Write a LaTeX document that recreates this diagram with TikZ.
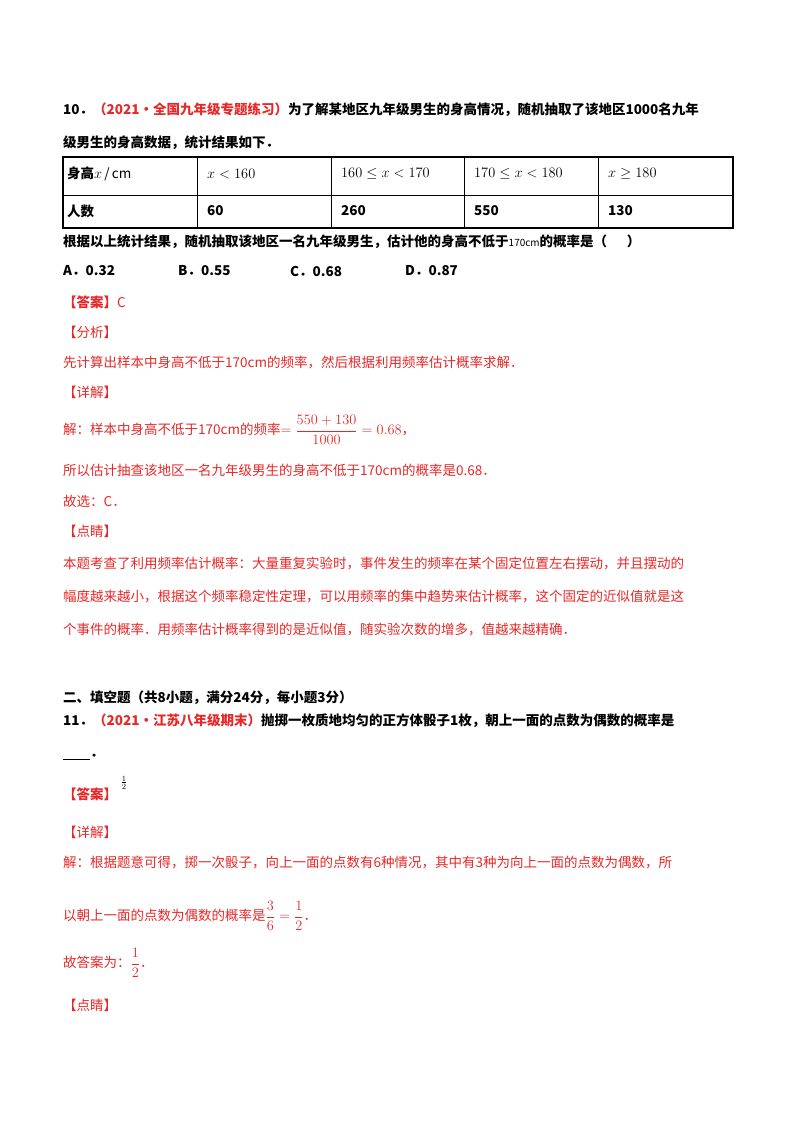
\documentclass[tikz,border=0pt]{standalone}
\usepackage{amsmath}
\usepackage{fontspec}
\setmainfont{Noto Sans CJK SC}
\definecolor{ansred}{RGB}{232,40,40}
\tikzset{
  txt/.style={anchor=west,inner sep=0pt,font=\fontsize{13.5}{16}\selectfont},
  btxt/.style={txt,font=\fontsize{13.5}{16}\selectfont\bfseries},
  rtxt/.style={txt,text=ansred},
  cell/.style={anchor=west,inner sep=0pt,font=\fontsize{13.5}{16}\selectfont\bfseries},
}
\begin{document}
\begin{tikzpicture}[x=1pt,y=-1pt]
\useasboundingbox (0,0) rectangle (800,1132);
\fill[white] (0,0) rectangle (800,1132);
% question 10
\node[btxt] (q10a) at (63,110) {10．{\color{ansred}（2021·全国九年级专题练习）}为了解某地区九年级男生的身高情况，随机抽取了该地区1000名九年};
\node[btxt] (q10b) at (63,143) {级男生的身高数据，统计结果如下．};
% table
\draw[line width=1.2pt] (63,157) rectangle (733,228);
\draw[line width=0.8pt] (63,195) -- (733,195);
\foreach \x in {197,331,464,598} \draw[line width=0.8pt] (\x,157) -- (\x,228);
\node[cell] (h0) at (67,174) {身高\mdseries$x$\,/\,cm};
\node[cell,font=\fontsize{13.5}{16}\selectfont] (h1) at (207,174) {$x<160$};
\node[cell,font=\fontsize{13.5}{16}\selectfont] (h2) at (341,174) {$160\le x<170$};
\node[cell,font=\fontsize{13.5}{16}\selectfont] (h3) at (474,174) {$170\le x<180$};
\node[cell,font=\fontsize{13.5}{16}\selectfont] (h4) at (608,174) {$x\ge180$};
\node[cell] (r0) at (67,211) {人数};
\node[cell] (r1) at (207,211) {60};
\node[cell] (r2) at (341,211) {260};
\node[cell] (r3) at (474,211) {550};
\node[cell] (r4) at (608,211) {130};
\node[btxt] (q10c) at (63,242) {根据以上统计结果，随机抽取该地区一名九年级男生，估计他的身高不低于{\mdseries\fontsize{10}{12}\selectfont 170cm}的概率是（\quad\ \ ）};
\node[btxt] (oa) at (63,271) {A．0.32};
\node[btxt] (ob) at (178,271) {B．0.55};
\node[btxt] (oc) at (290,271) {C．0.68};
\node[btxt] (od) at (405,271) {D．0.87};
\node[rtxt] (ans) at (63,302) {\bfseries【答案】\mdseries C};
\node[rtxt] (fx) at (63,332) {【分析】};
\node[rtxt] (fx1) at (63,362) {先计算出样本中身高不低于170cm的频率，然后根据利用频率估计概率求解．};
\node[rtxt] (xj) at (63,392) {【详解】};
\node[rtxt] (xj1) at (63,430) {解：样本中身高不低于170cm的频率$=\dfrac{550+130}{1000}=0.68$，};
\node[rtxt] (xj2) at (63,470) {所以估计抽查该地区一名九年级男生的身高不低于170cm的概率是0.68．};
\node[rtxt] (xj3) at (63,501) {故选：C．};
\node[rtxt] (dj) at (63,531) {【点睛】};
\node[rtxt] (dj1) at (63,563) {本题考查了利用频率估计概率：大量重复实验时，事件发生的频率在某个固定位置左右摆动，并且摆动的};
\node[rtxt] (dj2) at (63,596) {幅度越来越小，根据这个频率稳定性定理，可以用频率的集中趋势来估计概率，这个固定的近似值就是这};
\node[rtxt] (dj3) at (63,629) {个事件的概率．用频率估计概率得到的是近似值，随实验次数的增多，值越来越精确．};
% section 2
\node[btxt] (s2) at (63,698) {二、填空题（共8小题，满分24分，每小题3分）};
\node[btxt] (q11) at (63,721) {11．{\color{ansred}（2021·江苏八年级期末）}抛掷一枚质地均匀的正方体骰子1枚，朝上一面的点数为偶数的概率是};
\node[btxt] (q11b) at (63,757) {\underline{\hspace{27pt}}．};
\node[rtxt] (ans2) at (63,794) {\bfseries【答案】};
\node[anchor=south west,inner sep=0pt,font=\fontsize{11}{13}\selectfont] (ans2f) at ([xshift=3pt,yshift=-2pt]ans2.north east) {$\frac{1}{2}$};
\node[rtxt] (xj4) at (63,832) {【详解】};
\node[rtxt] (xj5) at (63,862) {解：根据题意可得，掷一次骰子，向上一面的点数有6种情况，其中有3种为向上一面的点数为偶数，所};
\node[rtxt] (xj6) at (63,916) {以朝上一面的点数为偶数的概率是$\dfrac{3}{6}=\dfrac{1}{2}$．};
\node[rtxt] (xj7) at (63,963) {故答案为：$\dfrac{1}{2}$．};
\node[rtxt] (dj4) at (63,1005) {【点睛】};
\end{tikzpicture}
\end{document}
